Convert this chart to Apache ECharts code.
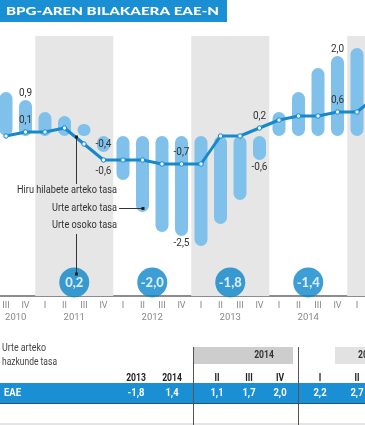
<!DOCTYPE html>
<html><head><meta charset="utf-8">
<script src="https://cdn.jsdelivr.net/npm/echarts@6/dist/echarts.min.js"></script>
<style>html,body{margin:0;padding:0;background:#fff}#c{width:365px;height:425px}</style>
</head><body><div id="c"></div>
<script>
// ---------- DATA ----------
const quarterKeys = ['2010 III','2010 IV','2011 I','2011 II','2011 III','2011 IV','2012 I','2012 II','2012 III','2012 IV','2013 I','2013 II','2013 III','2013 IV','2014 I','2014 II','2014 III','2014 IV','2015 I','2015 II'];
const yoyRate = [1.1, 0.9, 0.6, 0.5, 0.3, -0.4, -1.1, -1.9, -2.4, -2.5, -2.75, -2.2, -1.6, -0.6, 0.6, 1.1, 1.7, 2.0, 2.2, 2.7];
const qoqRate = [0.0, 0.1, 0.1, 0.2, -0.2, -0.6, -0.6, -0.6, -0.7, -0.7, -0.7, 0.0, 0.0, 0.2, 0.4, 0.5, 0.5, 0.6, 0.6, 1.0];
const yoyLabelled = ['2010 IV','2011 IV','2012 IV','2013 IV','2014 IV'];
const qoqLabelled = ['2010 IV','2011 IV','2012 IV','2013 IV','2014 IV'];
const yearAxisLabels = ['2010','2011','2012','2013','2014'];
const annualYears = ['2011','2012','2013','2014'];
const annualRate = [0.2, -2.0, -1.8, -1.4];
const shadedYears = ['2011','2013','2015'];
const tableAnnualYears = ['2013','2014'];
const tableAnnualRate = [-1.8, 1.4];
const tableQuarterYears = ['2014','2014','2014','2015','2015'];
const tableQuarters = ['II','III','IV','I','II'];
const tableQuarterRate = [1.1, 1.7, 2.0, 2.2, 2.7];

// ---------- STYLE / LAYOUT ----------
const FONT = "Roboto, 'Noto Sans', sans-serif";
const SX = 0.86; // horizontal squeeze to mimic a narrow face
const BLUE = '#1a8fd3', LINE = '#1689cd', BAR = '#7fc1ea', BADGE = '#0b86cb';
const BADGE_Y = -3.66;
const fmt = v => v.toFixed(1).replace('.', ',');
const yearOf = k => k.split(' ')[0];
const romanOf = k => k.split(' ')[1];
function yearEdges(y){ const idx = quarterKeys.map((k,i)=>yearOf(k)===y?i:-1).filter(i=>i>=0); return [idx[0], idx[idx.length-1]+1]; }
function yearCenter(y){ const e = yearEdges(y); return (e[0]+e[1])/2; }
const yearLabelAt = {}; yearAxisLabels.forEach(y => { yearLabelAt[yearCenter(y)] = y; });

const mctx = document.createElement('canvas').getContext('2d');
function fitScale(text, font, w){ mctx.font = font; return w / mctx.measureText(text).width; }

const barData = yoyRate.map((v,i) => {
  const lab = yoyLabelled.includes(quarterKeys[i]);
  return {value: v, label: {show: lab, position: quarterKeys[i]==='2011 IV' ? 'inside' : 'outside', distance: 2}};
});
const lineData = qoqRate.map((v,i) => {
  const lab = qoqLabelled.includes(quarterKeys[i]);
  return {value: v, label: {show: lab, position: quarterKeys[i]==='2011 IV' ? 'bottom' : 'top', distance: 4}};
});

const chart = echarts.init(document.getElementById('c'), null, {renderer:'canvas'});

// graphics
const G = [];
G.push({type:'rect', shape:{x:0,y:0,width:227,height:22}, style:{fill:BLUE}, z:100});
const titleFont = "900 11px Lato";
G.push({type:'text', x:6, y:11.5, scaleX: fitScale('BPG-AREN BILAKAERA EAE-N', titleFont, 213), z:101,
  style:{text:'BPG-AREN BILAKAERA EAE-N', font:titleFont, fill:'#fff', textAlign:'left', textVerticalAlign:'middle'}});
function T(x,y,text,extra,w){
  const st = Object.assign({text, font:'10.5px '+FONT, fill:'#333', textAlign:'left', textVerticalAlign:'middle'}, extra||{});
  const s = w ? fitScale(text, st.font, w) : SX;
  return {type:'text', x, y, z:101, scaleX:s, style:st};
}
function L(x1,y1,x2,y2,c,w){ return {type:'line', z:101, shape:{x1,y1,x2,y2}, style:{stroke:c||'#333', lineWidth:w||1}}; }
function D(x,y){ return {type:'rect', z:102, shape:{x:x-1.5,y:y-1.5,width:3,height:3}, style:{fill:'#222'}}; }
// annotations
G.push(L(76.5,137,76.5,184)); G.push(D(76.5,137));
G.push(T(117,190,'Hiru hilabete arteko tasa',{textAlign:'right'},100));
G.push(T(117,208,'Urte arteko tasa',{textAlign:'right'},65));
G.push(L(119,208.5,142,208.5)); G.push(D(143,208.5));
G.push(T(117,225,'Urte osoko tasa',{textAlign:'right'},65));
G.push(L(76.5,234,76.5,273)); G.push(D(76.5,274));
// table
G.push(T(2,348,'Urte arteko',{fill:'#444',font:'10px '+FONT},44));
G.push(T(2,362,'hazkunde tasa',{fill:'#444',font:'10px '+FONT},55));
G.push({type:'rect', z:100, shape:{x:193,y:347,width:100,height:17}, style:{fill:'#cdcdcd'}});
G.push({type:'rect', z:100, shape:{x:335,y:347,width:30,height:17}, style:{fill:'#e2e2e2'}});
G.push(T(264,355.5,'2014',{textAlign:'center',font:'bold 10px '+FONT}));
G.push(T(358,355.5,'2015',{textAlign:'left',font:'bold 10px '+FONT}));
G.push({type:'rect', z:100, shape:{x:0,y:383,width:365,height:20}, style:{fill:BLUE}});
G.push(L(0,403.5,365,403.5,'#1d5680',1));
G.push({type:'rect', z:100, shape:{x:0,y:423,width:365,height:2}, style:{fill:'#e4e4e4'}});
G.push(L(193.5,347,193.5,425,'#555',1));
G.push(L(298.5,347,298.5,425,'#555',1));
G.push(T(4,393.5,'EAE',{fill:'#fff',font:'bold 11px '+FONT}));
const colX = [136,172,217,249,280,320,357];
const headers = tableAnnualYears.concat(tableQuarters);
const vals = tableAnnualRate.concat(tableQuarterRate);
headers.forEach((h,i)=>{
  G.push(T(colX[i],378,h,{textAlign:'center',font:'bold 10px '+FONT,fill:'#222'}));
  G.push(T(colX[i],393.5,fmt(vals[i]),{textAlign:'center',font:'bold 11px '+FONT,fill:'#fff'}));
});

const option = {
  animation:false,
  grid:{left:-3.75, top:36, width:390, height:260, containLabel:false, outerBoundsMode:'none'},
  xAxis:[
    {type:'category', data:quarterKeys, boundaryGap:true, position:'bottom',
     axisLine:{show:true, onZero:false, lineStyle:{color:'#666', width:1.5}}, axisTick:{show:false},
     axisLabel:{interval:0, margin:5, color:'#888', fontSize:9, fontFamily:FONT, formatter:(v)=>romanOf(v)}},
    {type:'value', min:0, max:quarterKeys.length, interval:1, position:'bottom',
     axisLine:{show:false, onZero:false}, axisTick:{show:false}, splitLine:{show:false},
     axisLabel:{margin:17, color:'#888', fontSize:9.5, fontFamily:FONT, showMinLabel:true, showMaxLabel:true,
       formatter:(v)=> yearLabelAt[v] || ''}}
  ],
  yAxis:[{type:'value', min:-4, max:2.5, show:false, splitLine:{show:false}}],
  graphic: G,
  series:[
    {type:'scatter', xAxisIndex:1, yAxisIndex:0, data:[], z:0, silent:true,
     markArea:{silent:true, itemStyle:{color:'#e6e6e6'},
       data: shadedYears.map(y => { const e = yearEdges(y); return [{xAxis:e[0]},{xAxis:e[1]}]; })}},
    {type:'bar', xAxisIndex:0, data:barData, barWidth:13, z:2,
     itemStyle:{color:BAR, borderRadius:6.5},
     label:{color:'#333', fontSize:10, fontFamily:FONT, formatter:p=>fmt(p.value)}},
    {type:'line', xAxisIndex:0, data:lineData, z:3, symbol:'circle', symbolSize:4.5, showAllSymbol:true,
     lineStyle:{color:LINE, width:3}, itemStyle:{color:'#e8f4fc', borderColor:LINE, borderWidth:1},
     label:{color:'#333', fontSize:10, fontFamily:FONT, formatter:p=>fmt(p.value)}},
    {type:'scatter', xAxisIndex:1, yAxisIndex:0, z:4, symbol:'circle', symbolSize:30,
     data: annualYears.map((y,i)=>[yearCenter(y), BADGE_Y, annualRate[i]]),
     itemStyle:{color:BADGE},
     label:{show:true, position:'inside', color:'#fff', fontSize:13, fontWeight:900, fontFamily:'Lato, Roboto, sans-serif',
       formatter:p=>fmt(p.value[2])}}
  ]
};
chart.setOption(option);
</script></body></html>
